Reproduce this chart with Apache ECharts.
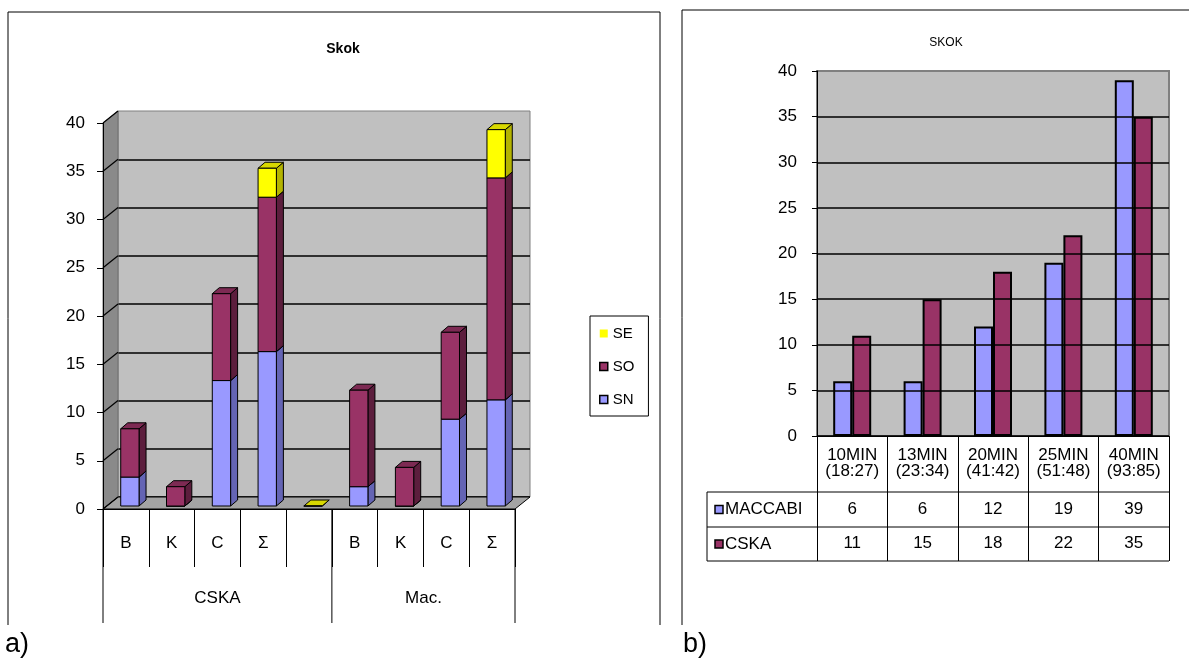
<!DOCTYPE html>
<html><head><meta charset="utf-8">
<script src="https://cdn.jsdelivr.net/npm/echarts@6/dist/echarts.min.js"></script>
<style>html,body{margin:0;padding:0;background:#fff}#c{width:1189px;height:661px}</style>
</head><body><div id="c"></div>
<script>
// ---------- data: chart a ----------
const catsA = ['B', 'K', 'C', 'Σ', '', 'B', 'K', 'C', 'Σ'];
const groupsA = ['CSKA', 'Mac.'];
const groupSpanA = [5, 4];
const seriesNamesA = ['SN', 'SO', 'SE'];
const SN = [3, 0, 13, 16, null, 2, 0, 9, 11];
const SO = [5, 2, 9, 16, null, 10, 4, 9, 23];
const SE = [null, null, null, 3, 0, null, null, null, 5];
// ---------- data: chart b ----------
const catsB = ['10MIN\n(18:27)', '13MIN\n(23:34)', '20MIN\n(41:42)', '25MIN\n(51:48)', '40MIN\n(93:85)'];
const rowNamesB = ['MACCABI', 'CSKA'];
const maccabi = [6, 6, 12, 19, 39];
const cska = [11, 15, 18, 22, 35];
const titleA = 'Skok', titleB = 'SKOK';

// ---------- layout / style ----------
const FONT = 'Liberation Sans, Arial, sans-serif';
const FA = {left: 103, top: 123, width: 412, height: 386};
const DEPTH = [15, -12];
const BAR_OFF = [4, -3], BAR_DEPTH = [7, -6], BAR_FRAC = 0.4;
const facesA = {
  SN: ['#9999ff', '#6464b4', '#8282e0'],
  SO: ['#993366', '#5c1e3d', '#7d2a53'],
  SE: ['#ffff00', '#b4b400', '#d8d800']
};
const GB = {left: 817, top: 71, width: 352, height: 365};
const colB = ['#9999ff', '#993366'];

const chart = echarts.init(document.getElementById('c'));

function render3D(faces) {
  return function (params, api) {
    const i = api.value(0), s = api.value(1), e = api.value(2);
    const pb = api.coord([i, s]), pt = api.coord([i, e]);
    const bw = api.size([1, 0])[0] * BAR_FRAC;
    const x0 = pb[0] - bw / 2 + BAR_OFF[0], x1 = x0 + bw;
    const yb = pb[1] + BAR_OFF[1], yt = pt[1] + BAR_OFF[1];
    const dx = BAR_DEPTH[0], dy = BAR_DEPTH[1];
    const ls = {stroke: '#000', lineWidth: 1, lineJoin: 'round'};
    return {type: 'group', children: [
      {type: 'polygon', shape: {points: [[x1, yb], [x1 + dx, yb + dy], [x1 + dx, yt + dy], [x1, yt]]}, style: Object.assign({fill: faces[1]}, ls)},
      {type: 'polygon', shape: {points: [[x0, yt], [x0 + dx, yt + dy], [x1 + dx, yt + dy], [x1, yt]]}, style: Object.assign({fill: faces[2]}, ls)},
      {type: 'rect', shape: {x: x0, y: yt, width: bw, height: yb - yt}, style: Object.assign({fill: faces[0]}, ls)}
    ]};
  };
}

const rawA = {SN: SN, SO: SO, SE: SE};
const base = catsA.map(() => 0);
const seriesA = seriesNamesA.map(name => {
  const vals = rawA[name];
  const data = [];
  vals.forEach((v, i) => {
    if (v === null) return;
    data.push([i, base[i], base[i] + v]);
    base[i] += v;
  });
  return {
    name: name, type: 'custom', xAxisIndex: 0, yAxisIndex: 0,
    renderItem: render3D(facesA[name]),
    encode: {x: 0, y: [1, 2]},
    itemStyle: {color: facesA[name][0]},
    data: data, z: 2
  };
});

const txt = {color: '#000', fontFamily: FONT};

chart.setOption({
  animation: false,
  legend: {
    data: [
      {name: 'SE', itemStyle: {borderWidth: 0}},
      {name: 'SO', itemStyle: {borderColor: '#000', borderWidth: 1.5}},
      {name: 'SN', itemStyle: {borderColor: '#000', borderWidth: 1.5}}
    ],
    orient: 'vertical', left: 590, top: 316, icon: 'rect',
    itemWidth: 8, itemHeight: 8, itemGap: 18,
    padding: [10, 14, 9, 9], borderColor: '#000', borderWidth: 1,
    textStyle: {fontSize: 15, color: '#000', fontFamily: FONT}
  },
  grid: [
    {left: FA.left, top: FA.top, width: FA.width, height: FA.height, containLabel: false},
    {left: FA.left + DEPTH[0], top: FA.top + DEPTH[1], width: FA.width, height: FA.height,
      show: true, backgroundColor: '#c0c0c0', borderColor: '#808080', borderWidth: 1},
    {left: GB.left, top: GB.top, width: GB.width, height: GB.height,
      show: true, backgroundColor: '#c0c0c0', borderColor: '#808080', borderWidth: 2}
  ],
  xAxis: [
    {type: 'category', gridIndex: 0, data: catsA, z: 3,
      axisLine: {lineStyle: {color: '#000', width: 1}},
      axisTick: {show: true, interval: 0, length: 58, lineStyle: {color: '#000', width: 1}},
      axisLabel: Object.assign({interval: 0, fontSize: 17, margin: 26}, txt)},
    {type: 'category', gridIndex: 1, data: catsA, show: false},
    {type: 'category', gridIndex: 2, data: catsB, z: 3,
      axisLine: {lineStyle: {color: '#000', width: 1}},
      axisTick: {show: true, interval: 0, length: 125, lineStyle: {color: '#000', width: 1}},
      axisLabel: Object.assign({interval: 0, fontSize: 17, lineHeight: 16, margin: 11}, txt)},
    {type: 'category', gridIndex: 2, data: catsB, position: 'bottom',
      axisLine: {show: false}, axisTick: {show: false},
      axisLabel: Object.assign({interval: 0, fontSize: 17, lineHeight: 17, margin: 65, formatter: (v, i) => String(maccabi[i])}, txt)},
    {type: 'category', gridIndex: 2, data: catsB, position: 'bottom',
      axisLine: {show: false}, axisTick: {show: false},
      axisLabel: Object.assign({interval: 0, fontSize: 17, lineHeight: 17, margin: 99, formatter: (v, i) => String(cska[i])}, txt)}
  ],
  yAxis: [
    {type: 'value', gridIndex: 0, min: 0, max: 40, interval: 5, z: 3,
      axisLine: {show: true, lineStyle: {color: '#000', width: 1}},
      axisTick: {show: true, length: 6, lineStyle: {color: '#000'}},
      splitLine: {show: false},
      axisLabel: Object.assign({fontSize: 17, margin: 18}, txt)},
    {type: 'value', gridIndex: 1, min: 0, max: 40, interval: 5,
      axisLine: {show: false}, axisTick: {show: false}, axisLabel: {show: false},
      splitLine: {show: true, showMaxLine: false, lineStyle: {color: '#000', width: 1.5}}},
    {type: 'value', gridIndex: 2, min: 0, max: 40, interval: 5, z: 3,
      axisLine: {show: true, lineStyle: {color: '#000', width: 1}},
      axisTick: {show: true, length: 5, lineStyle: {color: '#000'}},
      splitLine: {show: true, showMaxLine: false, lineStyle: {color: '#000', width: 1.5}},
      axisLabel: Object.assign({fontSize: 17, margin: 20}, txt)}
  ],
  series: seriesA.concat([
    {name: rowNamesB[0], type: 'bar', xAxisIndex: 2, yAxisIndex: 2, data: maccabi,
      barWidth: 19, barGap: '0%', itemStyle: {color: colB[0], borderColor: '#000', borderWidth: 2}},
    {name: rowNamesB[1], type: 'bar', xAxisIndex: 2, yAxisIndex: 2, data: cska,
      barWidth: 19, barGap: '0%', itemStyle: {color: colB[1], borderColor: '#000', borderWidth: 2}}
  ])
});

// ---------- decorations computed from the axes ----------
const fy = v => chart.convertToPixel({yAxisIndex: 0}, v);
const by = v => chart.convertToPixel({yAxisIndex: 1}, v);
const cx = i => chart.convertToPixel({xAxisIndex: 0}, i);
const band = cx(1) - cx(0);
const xL = cx(0) - band / 2, xR = cx(catsA.length - 1) + band / 2;
const y0 = fy(0), yTop = fy(40);
const g = [];
g.push({type: 'polygon', z: 1, shape: {points: [[xL, y0], [xL, yTop], [xL + DEPTH[0], by(40)], [xL + DEPTH[0], by(0)]]}, style: {fill: '#8a8a8a', stroke: '#6e6e6e', lineWidth: 1}});
g.push({type: 'polygon', z: 1, shape: {points: [[xL, y0], [xL + DEPTH[0], by(0)], [xR + DEPTH[0], by(0)], [xR, y0]]}, style: {fill: '#a4a4a4', stroke: '#000', lineWidth: 1}});
for (let v = 0; v <= 40; v += 5) {
  g.push({type: 'line', z: 1.5, shape: {x1: xL, y1: fy(v), x2: xL + DEPTH[0], y2: by(v)}, style: {stroke: '#000', lineWidth: 1.2}});
}
let start = 0;
const yCatBottom = y0 + 58, yGrpBottom = y0 + 114;
g.push({type: 'line', z: 3, shape: {x1: xL, y1: y0, x2: xL, y2: yGrpBottom}, style: {stroke: '#000', lineWidth: 1}});
groupsA.forEach((name, k) => {
  const end = start + groupSpanA[k];
  const gl = cx(start) - band / 2, gr = cx(end - 1) + band / 2;
  g.push({type: 'line', z: 3, shape: {x1: gr, y1: y0, x2: gr, y2: yGrpBottom}, style: {stroke: '#000', lineWidth: 1}});
  g.push({type: 'text', z: 3, x: (gl + gr) / 2, y: (yCatBottom + yGrpBottom) / 2 + 3,
    style: {text: name, font: '17px ' + FONT, fill: '#000', align: 'center', verticalAlign: 'middle'}});
  start = end;
});
g.push({type: 'text', z: 3, x: 343, y: 49, style: {text: titleA, font: 'bold 14px ' + FONT, fill: '#000', align: 'center', verticalAlign: 'middle'}});
g.push({type: 'text', z: 3, x: 946, y: 43, style: {text: titleB, font: '12px ' + FONT, fill: '#000', align: 'center', verticalAlign: 'middle'}});
g.push({type: 'polyline', z: 3, shape: {points: [[8, 625], [8, 12], [660, 12], [660, 625]]}, style: {stroke: '#000', lineWidth: 1, fill: null}});
g.push({type: 'polyline', z: 3, shape: {points: [[682, 625], [682, 10], [1189, 10]]}, style: {stroke: '#000', lineWidth: 1, fill: null}});
g.push({type: 'text', z: 3, x: 5, y: 645, style: {text: 'a)', font: '27px ' + FONT, fill: '#000', align: 'left', verticalAlign: 'middle'}});
g.push({type: 'text', z: 3, x: 683, y: 645, style: {text: 'b)', font: '27px ' + FONT, fill: '#000', align: 'left', verticalAlign: 'middle'}});
const bx0 = chart.convertToPixel({xAxisIndex: 2}, 0);
const bband = chart.convertToPixel({xAxisIndex: 2}, 1) - bx0;
const tR = bx0 + bband * (catsB.length - 0.5);
const tLeft = 707;
const rowY = [492, 527, 561];
rowY.forEach(y => g.push({type: 'line', z: 3, shape: {x1: tLeft, y1: y, x2: tR, y2: y}, style: {stroke: '#000', lineWidth: 1}}));
g.push({type: 'line', z: 3, shape: {x1: tLeft, y1: rowY[0], x2: tLeft, y2: rowY[2]}, style: {stroke: '#000', lineWidth: 1}});
rowNamesB.forEach((name, k) => {
  const yc = (rowY[k] + rowY[k + 1]) / 2;
  g.push({type: 'rect', z: 3, shape: {x: 715, y: yc - 4, width: 8, height: 8}, style: {fill: colB[k], stroke: '#000', lineWidth: 1.5}});
  g.push({type: 'text', z: 3, x: 725, y: yc, style: {text: name, font: '17px ' + FONT, fill: '#000', align: 'left', verticalAlign: 'middle'}});
});
chart.setOption({graphic: g});
</script></body></html>
